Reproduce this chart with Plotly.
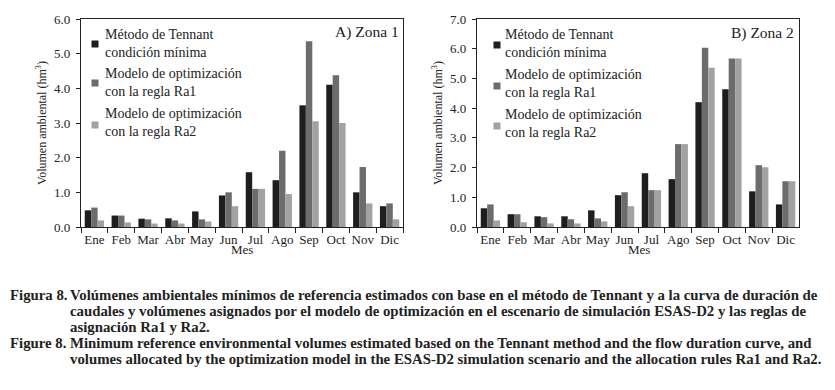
import plotly.graph_objects as go

months = ["Ene", "Feb", "Mar", "Abr", "May", "Jun", "Jul", "Ago", "Sep", "Oct", "Nov", "Dic"]

# Zona 1
z1_tennant = [0.48, 0.33, 0.24, 0.25, 0.45, 0.91, 1.58, 1.35, 3.51, 4.10, 1.00, 0.60]
z1_ra1 = [0.56, 0.33, 0.22, 0.19, 0.22, 1.00, 1.10, 2.20, 5.36, 4.38, 1.73, 0.68]
z1_ra2 = [0.19, 0.13, 0.10, 0.10, 0.16, 0.60, 1.10, 0.95, 3.05, 3.00, 0.68, 0.22]

# Zona 2
z2_tennant = [0.63, 0.43, 0.36, 0.36, 0.56, 1.07, 1.81, 1.61, 4.20, 4.64, 1.20, 0.76]
z2_ra1 = [0.76, 0.43, 0.33, 0.26, 0.29, 1.17, 1.24, 2.79, 6.03, 5.67, 2.08, 1.54]
z2_ra2 = [0.22, 0.16, 0.12, 0.12, 0.19, 0.70, 1.24, 2.79, 5.36, 5.67, 2.01, 1.54]

series_names = ["Método de Tennant<br>condición mínima",
                "Modelo de optimización<br>con la regla Ra1",
                "Modelo de optimización<br>con la regla Ra2"]
colors = ["#1e1e1e", "#6c6c6c", "#a2a2a2"]

y_ticks_1 = [0, 1, 2, 3, 4, 5, 6]
y_ticks_2 = [0, 1, 2, 3, 4, 5, 6, 7]

caption_lines = [
    ("Figura 8.", "Volúmenes ambientales mínimos de referencia estimados con base en el método de Tennant y a la curva de duración de"),
    ("", "caudales y volúmenes asignados por el modelo de optimización en el escenario de simulación ESAS-D2 y las reglas de"),
    ("", "asignación Ra1 y Ra2."),
    ("Figure 8.", "Minimum reference environmental volumes estimated based on the Tennant method and the flow duration curve, and"),
    ("", "volumes allocated by the optimization model in the ESAS-D2 simulation scenario and the allocation rules Ra1 and Ra2."),
]

# page body has an 8 px margin; size the figure so it fills the window exactly
OFF = 8
W, H = 835 - OFF, 390 - OFF
SERIF = "Liberation Serif, 'Times New Roman', 'DejaVu Serif', serif"

fig = go.Figure()
for vals, name, col in zip([z1_tennant, z1_ra1, z1_ra2], series_names, colors):
    fig.add_trace(go.Bar(x=months, y=vals, name=name, marker=dict(color=col, line=dict(width=0)),
                         xaxis="x", yaxis="y", showlegend=False))
for vals, name, col in zip([z2_tennant, z2_ra1, z2_ra2], series_names, colors):
    fig.add_trace(go.Bar(x=months, y=vals, name=name, marker=dict(color=col, line=dict(width=0)),
                         xaxis="x2", yaxis="y2", showlegend=False))

def px_x(p):
    return (p - OFF) / W

def px_y(p):
    return 1 - (p - OFF) / H

line_common = dict(showline=True, linecolor="#222", linewidth=1.2, mirror=True,
                   ticks="outside", tickcolor="#222", showgrid=False, zeroline=False,
                   tickfont=dict(family=SERIF, size=13, color="#222"))

xcommon = dict(tickson="boundaries", ticklen=5, tickangle=0, automargin=False, **line_common)
ycommon = dict(ticklen=4, tickformat=".1f", automargin=False, ticklabelstandoff=3, **line_common,
               title=dict(text="Volumen ambiental (hm<sup>3</sup>)", font=dict(family=SERIF, size=12), standoff=4))

fig.update_layout(
    width=W, height=H, margin=dict(l=0, r=0, t=0, b=0),
    paper_bgcolor="white", plot_bgcolor="white",
    barmode="group", bargap=0.28, bargroupgap=0,
    font=dict(family=SERIF, color="#222"),
    xaxis=dict(domain=[px_x(81), px_x(403)], anchor="y", **xcommon),
    yaxis=dict(domain=[px_y(227), px_y(19)], anchor="x", range=[0, 6], tickvals=y_ticks_1, **ycommon),
    xaxis2=dict(domain=[px_x(477), px_x(799)], anchor="y2", **xcommon),
    yaxis2=dict(domain=[px_y(227), px_y(19)], anchor="x2", range=[0, 7], tickvals=y_ticks_2, **ycommon),
)

annotations = []
shapes = []
# x-axis titles
for cx in (242, 639):
    annotations.append(dict(text="Mes", x=px_x(cx), y=px_y(250), xref="paper", yref="paper",
                            xanchor="center", yanchor="middle", showarrow=False,
                            font=dict(family=SERIF, size=13, color="#222")))
# panel labels
annotations.append(dict(text="A) Zona 1", x=px_x(401), y=px_y(32), xref="paper", yref="paper",
                        xanchor="right", yanchor="middle", showarrow=False,
                        font=dict(family=SERIF, size=15.5, color="#222")))
annotations.append(dict(text="B) Zona 2", x=px_x(796), y=px_y(33), xref="paper", yref="paper",
                        xanchor="right", yanchor="middle", showarrow=False,
                        font=dict(family=SERIF, size=15.5, color="#222")))

# legends (inside each panel)
legend_specs = [
    (95, 103, [43.5, 82.5, 122.5], [44, 83, 125]),
    (497, 503, [43.5, 83, 123.5], [45, 86, 126]),
]
for mx, tx, tcent, mcent in legend_specs:
    for name, col, tc, mc in zip(series_names, colors, tcent, mcent):
        annotations.append(dict(text=name, x=px_x(tx), y=px_y(tc), xref="paper", yref="paper",
                                xanchor="left", yanchor="middle", align="left", showarrow=False,
                                font=dict(family=SERIF, size=14, color="#222")))
        shapes.append(dict(type="rect", xref="paper", yref="paper",
                           x0=px_x(mx - 3.5), x1=px_x(mx + 3.5), y0=px_y(mc + 3.5), y1=px_y(mc - 3.5),
                           fillcolor=col, line=dict(width=0)))

# caption
cap_y = [295, 311, 327, 343, 359]
for (lab, txt), yy in zip(caption_lines, cap_y):
    if lab:
        annotations.append(dict(text="<b>%s</b>" % lab, x=px_x(8), y=px_y(yy), xref="paper", yref="paper",
                                xanchor="left", yanchor="middle", showarrow=False,
                                font=dict(family=SERIF, size=14.8, color="#222")))
    annotations.append(dict(text="<b>%s</b>" % txt, x=px_x(68), y=px_y(yy), xref="paper", yref="paper",
                            xanchor="left", yanchor="middle", showarrow=False,
                            font=dict(family=SERIF, size=14.8, color="#222")))

fig.update_layout(annotations=annotations, shapes=shapes)
fig.write_html("out.html")
